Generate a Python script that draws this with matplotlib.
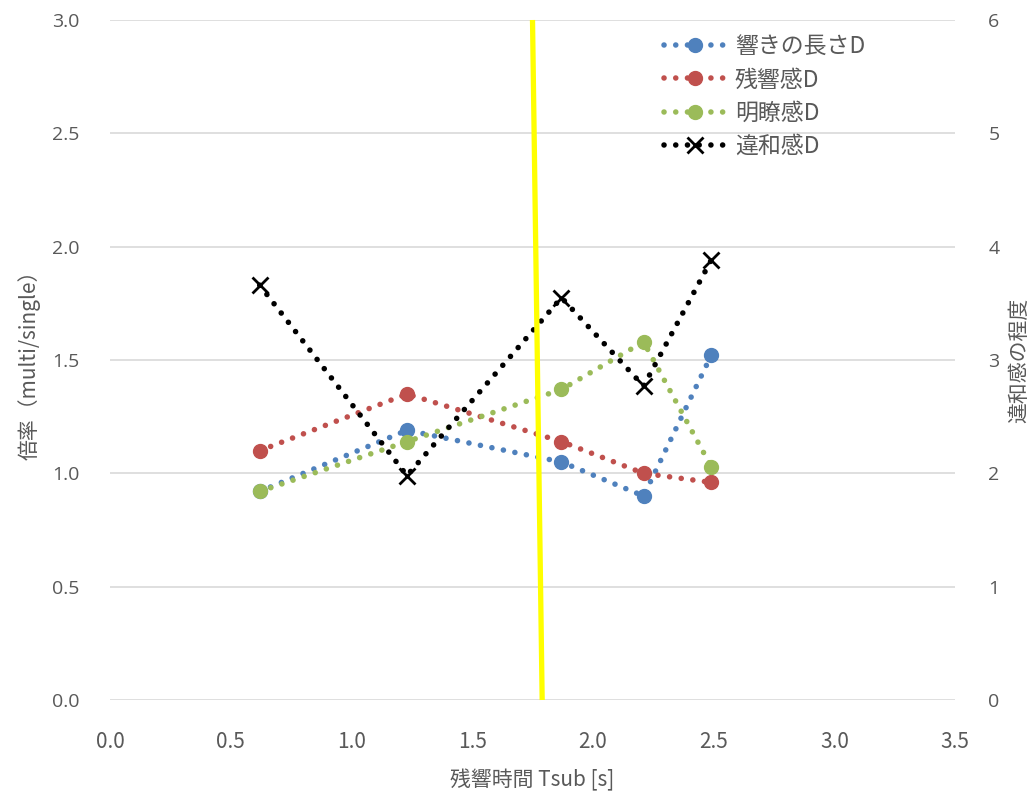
import matplotlib
matplotlib.use("Agg")
import matplotlib.pyplot as plt

plt.rcParams['font.family'] = ['Noto Sans CJK JP', 'DejaVu Sans']

# Reverberation time Tsub [s]
tsub = [0.62, 1.23, 1.87, 2.21, 2.49]

# Ratios (multi/single)
hibiki_nagasa = [0.92, 1.19, 1.05, 0.90, 1.52]
zankyo_kan = [1.10, 1.35, 1.14, 1.00, 0.96]
meiryo_kan = [0.92, 1.14, 1.37, 1.58, 1.03]

# Degree of discomfort (right axis)
iwakan = [3.66, 1.98, 3.55, 2.77, 3.88]

# Marker line (x at top and bottom of the plot)
marker_x = [1.75, 1.79]
marker_y = [3.0, 0.0]

series_names = ['響きの長さD', '残響感D', '明瞭感D', '違和感D']
colors = ['#4F81BD', '#C0504D', '#9BBB59', '#000000']

x_ticks = [0.0, 0.5, 1.0, 1.5, 2.0, 2.5, 3.0, 3.5]
left_ticks = [0.0, 0.5, 1.0, 1.5, 2.0, 2.5, 3.0]
right_ticks = [0, 1, 2, 3, 4, 5, 6]

tick_color = '#595959'
grid_color = '#D9D9D9'

fig = plt.figure(figsize=(10.32, 7.96), dpi=100)
ax = fig.add_axes([0.1066, 0.1206, 0.8188, 0.8543])
ax2 = ax.twinx()

line_kw = dict(linestyle=(0, (0.01, 2.1)), linewidth=4.0, dash_capstyle='round')

h1, = ax.plot(tsub, hibiki_nagasa, color=colors[0], marker='o', markersize=10, label=series_names[0], **line_kw)
h2, = ax.plot(tsub, zankyo_kan, color=colors[1], marker='o', markersize=10, label=series_names[1], **line_kw)
h3, = ax.plot(tsub, meiryo_kan, color=colors[2], marker='o', markersize=10, label=series_names[2], **line_kw)
h4, = ax2.plot(tsub, iwakan, color=colors[3], marker='x', markersize=12, markeredgewidth=2.0,
               label=series_names[3], **line_kw)

ax2.plot(marker_x, [v * 2 for v in marker_y], color='#FFFF00', linewidth=3.8, solid_capstyle='butt',
         zorder=10, clip_on=False)

ax.set_xlim(0, 3.5)
ax.set_ylim(0, 3.0)
ax2.set_ylim(0, 6)

ax.set_xticks(x_ticks)
ax.set_xticklabels([f'{v:.1f}' for v in x_ticks])
ax.set_yticks(left_ticks)
ax.set_yticklabels([f'{v:.1f}' for v in left_ticks], family=['Open Sans', 'DejaVu Sans'])
ax2.set_yticks(right_ticks)
ax2.set_yticklabels([str(v) for v in right_ticks], family=['Open Sans', 'DejaVu Sans'])

for a in (ax, ax2):
    for s in a.spines.values():
        s.set_visible(False)
    a.tick_params(length=0, colors=tick_color, labelsize=14)
ax.tick_params(axis='x', pad=22, labelsize=15)
ax.tick_params(axis='y', pad=22)
ax2.tick_params(axis='y', pad=24)

ax.yaxis.grid(True, color=grid_color, linewidth=1.2)
ax.set_axisbelow(True)

ax.set_xlabel('残響時間 Tsub [s]', fontsize=15, color=tick_color, labelpad=12)
ax.set_ylabel('倍率（multi/single）', fontsize=15, color=tick_color, labelpad=8)
ax2.set_ylabel('違和感の程度', fontsize=15, color=tick_color, labelpad=6)

leg = ax2.legend(handles=[h1, h2, h3, h4], loc='upper right', bbox_to_anchor=(0.918, 1.008),
                 frameon=False, fontsize=16.5, handlelength=2.7, handletextpad=0.4,
                 labelspacing=0.45, markerscale=1.0)
for t in leg.get_texts():
    t.set_color(tick_color)

fig.savefig('out.png', dpi=100)
